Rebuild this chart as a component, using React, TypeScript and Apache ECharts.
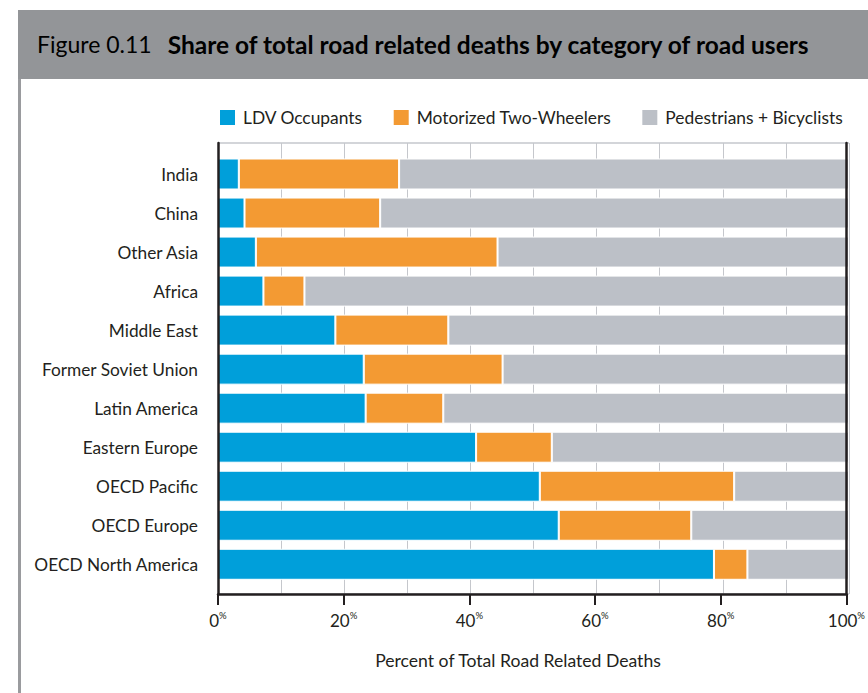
import React, { useEffect, useRef } from "react";
import * as echarts from "echarts";

const categories = [
  "India",
  "China",
  "Other Asia",
  "Africa",
  "Middle East",
  "Former Soviet Union",
  "Latin America",
  "Eastern Europe",
  "OECD Pacific",
  "OECD Europe",
  "OECD North America",
];
const ldvOccupants = [3.3, 4.2, 6.0, 7.2, 18.6, 23.1, 23.4, 40.9, 51.0, 54.0, 78.6];
const twoWheelers = [25.4, 21.5, 38.3, 6.5, 17.9, 22.0, 12.3, 12.0, 30.8, 21.0, 5.3];
const pedestrians = [71.3, 74.3, 55.7, 86.3, 63.5, 54.9, 64.3, 47.1, 18.2, 25.0, 16.1];
const seriesNames = ["LDV Occupants", "Motorized Two-Wheelers", "Pedestrians + Bicyclists"];
const colors = ["#009fda", "#f39a33", "#bcc0c7"];
const titlePrefix = "Figure 0.11";
const titleText = "Share of total road related deaths by category of road users";
const xAxisTitle = "Percent of Total Road Related Deaths";

const FONT = "Lato, 'Open Sans', sans-serif";
const INK = "#231f20";

export default function App() {
  const ref = useRef<HTMLDivElement>(null);
  useEffect(() => {
    if (!ref.current) return;
    const chart = echarts.init(ref.current, undefined, { renderer: "svg" });
    const plot = { left: 218, width: 631 };
    const frameTop = 143;
    const frameHeight = 451;
    const option: any = {
      animation: false,
      textStyle: { fontFamily: FONT },
      legend: {
        left: 218,
        top: 108,
        itemWidth: 17,
        itemHeight: 17,
        itemGap: 29,
        padding: 0,
        icon: "rect",
        data: seriesNames,
        textStyle: { fontSize: 17.4, color: INK, fontFamily: FONT, padding: [0, 0, 0, 2] },
      },
      grid: [
        { left: plot.left, width: plot.width, top: 154.5, height: 429.3 },
        { left: plot.left, width: plot.width, top: frameTop, height: frameHeight },
        { left: plot.left, width: plot.width, top: frameTop, height: frameHeight },
      ],
      xAxis: [
        { gridIndex: 0, type: "value", min: 0, max: 100, show: false },
        {
          gridIndex: 1,
          type: "value",
          min: 0,
          max: 100,
          interval: 20,
          axisLine: { show: false },
          axisTick: { show: false },
          axisLabel: { show: false },
          splitLine: { show: true, lineStyle: { color: "#c5c7cc", width: 1 } },
          minorTick: { show: false, splitNumber: 2 },
          minorSplitLine: { show: true, lineStyle: { color: "#c5c7cc", width: 1 } },
        },
        {
          gridIndex: 2,
          type: "value",
          min: 0,
          max: 100,
          interval: 20,
          z: 10,
          axisLine: { show: true, lineStyle: { color: INK, width: 2.5 } },
          axisTick: { show: true, length: 11, lineStyle: { color: INK, width: 2 } },
          splitLine: { show: false },
          axisLabel: {
            margin: 16,
            formatter: (v: number) => `{n|${v}}{p|%}`,
            rich: {
              n: { fontSize: 17, lineHeight: 20, color: INK, fontFamily: FONT },
              p: { fontSize: 9.5, lineHeight: 14, verticalAlign: "top", color: INK, fontFamily: FONT },
            },
          },
        },
      ],
      yAxis: [
        {
          gridIndex: 0,
          type: "category",
          data: categories,
          inverse: true,
          axisLine: { show: false },
          axisTick: { show: false },
          axisLabel: { fontSize: 17.3, color: INK, margin: 20, fontFamily: FONT },
        },
        {
          gridIndex: 1,
          type: "value",
          min: 0,
          max: 1,
          interval: 1,
          axisLine: { show: false },
          axisTick: { show: false },
          axisLabel: { show: false },
          splitLine: { show: true, lineStyle: { color: "#c5c7cc", width: 1.5 } },
        },
        {
          gridIndex: 2,
          type: "value",
          min: 0,
          max: 1,
          position: "left",
          z: 10,
          axisLine: { show: true, lineStyle: { color: INK, width: 2.5 } },
          axisTick: { show: false },
          axisLabel: { show: false },
          splitLine: { show: false },
        },
        {
          gridIndex: 2,
          type: "value",
          min: 0,
          max: 1,
          position: "right",
          z: 10,
          axisLine: { show: true, lineStyle: { color: INK, width: 2.5 } },
          axisTick: { show: false },
          axisLabel: { show: false },
          splitLine: { show: false },
        },
      ],
      series: [ldvOccupants, twoWheelers, pedestrians].map((d, i) => ({
        name: seriesNames[i],
        type: "bar",
        stack: "total",
        xAxisIndex: 0,
        yAxisIndex: 0,
        barWidth: 31,
        data: d,
        itemStyle: { color: colors[i], borderColor: "#ffffff", borderWidth: 1 },
      })),
      graphic: [
        { type: "rect", shape: { x: 18, y: 10, width: 850, height: 69 }, style: { fill: "#939598" } },
        { type: "rect", shape: { x: 18, y: 79, width: 3, height: 614 }, style: { fill: "#9a9b9e" } },
        {
          type: "text",
          x: 37,
          y: 44,
          style: {
            text: `{a|${titlePrefix}}{b|${titleText}}`,
            verticalAlign: "middle",
            rich: {
              a: { fontSize: 23, color: "#ffffff", fontFamily: FONT },
              b: {
                fontSize: 24.5,
                fontWeight: "bold",
                color: "#ffffff",
                fontFamily: FONT,
                padding: [0, 0, 0, 16],
              },
            },
          },
        },
        {
          type: "text",
          x: 518,
          y: 660,
          style: {
            text: xAxisTitle,
            align: "center",
            verticalAlign: "middle",
            fontSize: 17.6,
            fill: INK,
            fontFamily: FONT,
          },
        },
      ],
    };
    chart.setOption(option);
    return () => chart.dispose();
  }, []);
  return (
    <div
      ref={ref}
      style={{ position: "absolute", left: 0, top: 0, width: 868, height: 693, background: "#ffffff" }}
    />
  );
}
